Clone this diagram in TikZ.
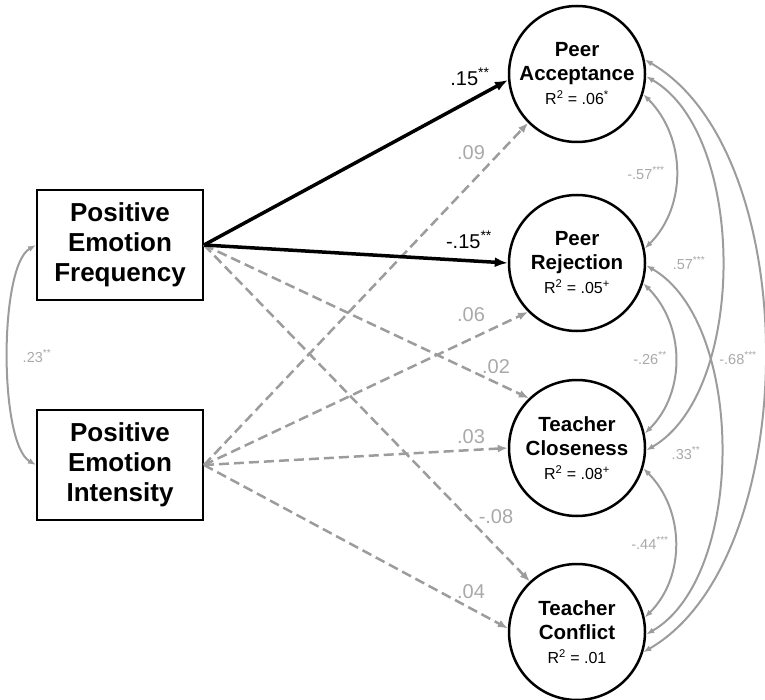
\documentclass[tikz,border=0pt]{standalone}
\usepackage{fontspec}
\setmainfont{Liberation Sans}
\usetikzlibrary{arrows.meta}
\definecolor{PathGray}{HTML}{9C9C9C}
\definecolor{NoteGray}{HTML}{A9A9A9}
\tikzset{box/.style={draw,line width=2pt,minimum width=166pt,minimum height=110pt,align=center,font=\fontsize{26}{30}\selectfont\bfseries},
  lat/.style={draw,circle,line width=2.5pt,minimum size=136pt,inner sep=0pt,align=center,font=\fontsize{20.5}{24}\selectfont\bfseries},
  arr/.style={-{Latex[length=13pt,width=10pt]},line width=3.5pt},
  darr/.style={-{Latex[length=10pt,width=8pt]},line width=2.5pt,PathGray,dash pattern=on 10pt off 5pt},
  cov/.style={{Latex[length=8pt,width=6pt]}-{Latex[length=8pt,width=6pt]},line width=2pt,PathGray},
  coef/.style={font=\fontsize{20}{22}\selectfont,inner sep=0pt},
  note/.style={font=\fontsize{14.5}{16}\selectfont,NoteGray,inner sep=0pt}}
\newcommand{\rsq}[1]{{\mdseries\fontsize{16}{20}\selectfont R\textsuperscript{2} = #1}}

\begin{document}
\begin{tikzpicture}[x=1pt,y=1pt]
\useasboundingbox (0,0) rectangle (765,-700);
\node[box] (freq) at (120,-245) {Positive\\Emotion\\Frequency};
\node[box] (intens) at (120,-465) {Positive\\Emotion\\Intensity};
\node[lat] (accept) at (577,-74) {Peer\\Acceptance\\\rsq{.06\textsuperscript{*}}};
\node[lat] (reject) at (577,-263) {Peer\\Rejection\\\rsq{.05\textsuperscript{+}}};
\node[lat] (close) at (577,-448) {Teacher\\Closeness\\\rsq{.08\textsuperscript{+}}};
\node[lat] (conflict) at (577,-632) {Teacher\\Conflict\\\rsq{.01}};
% paths
\draw[darr] (freq.east)--(close.134); \draw[darr] (freq.east)--(conflict.133);
\draw[darr] (intens.east)--(accept.225); \draw[darr] (intens.east)--(reject.225);
\draw[darr] (intens.east)--(close.180); \draw[darr] (intens.east)--(conflict.177);
\draw[arr] (freq.east)--(accept.185); \draw[arr] (freq.east)--(reject.180);
\node[coef] (b1) at (470,-77) {.15\textsuperscript{**}};
\node[coef] (b2) at (469,-240) {-.15\textsuperscript{**}};
\node[coef,NoteGray] (b3) at (471,-153) {.09};
\node[coef,NoteGray] (b4) at (471,-315) {.06};
\node[coef,NoteGray] (b5) at (496,-367) {.02};
\node[coef,NoteGray] (b6) at (471,-437) {.03};
\node[coef,NoteGray] (b7) at (496,-517) {-.08};
\node[coef,NoteGray] (b8) at (471,-592) {.04};
% correlations
\draw[cov] (freq.west) to[out=210,in=150,looseness=.5] (intens.west);
\draw[cov] (accept.-17) to[out=-45,in=45] (reject.12);
\draw[cov] (reject.-17) to[out=-45,in=45] (close.12);
\draw[cov] (close.-17) to[out=-45,in=45] (conflict.12);
\draw[cov] (accept.-2) to[out=-30,in=30,looseness=.8] (close.-2);
\draw[cov] (reject.-2) to[out=-30,in=30,looseness=.8] (conflict.-2);
\draw[cov] (accept.12) to[out=-30,in=30,looseness=.8] (conflict.-17);
\node[note] (r1) at (37,-356) {.23\textsuperscript{**}};
\node[note] (r2) at (646,-173) {-.57\textsuperscript{***}};
\node[note] (r3) at (689,-263) {.57\textsuperscript{***}};
\node[note] (r4) at (650,-358) {-.26\textsuperscript{**}};
\node[note] (r5) at (738,-358) {-.68\textsuperscript{***}};
\node[note] (r6) at (686,-453) {.33\textsuperscript{**}};
\node[note] (r7) at (650,-543) {-.44\textsuperscript{***}};
\end{tikzpicture}
\end{document}
